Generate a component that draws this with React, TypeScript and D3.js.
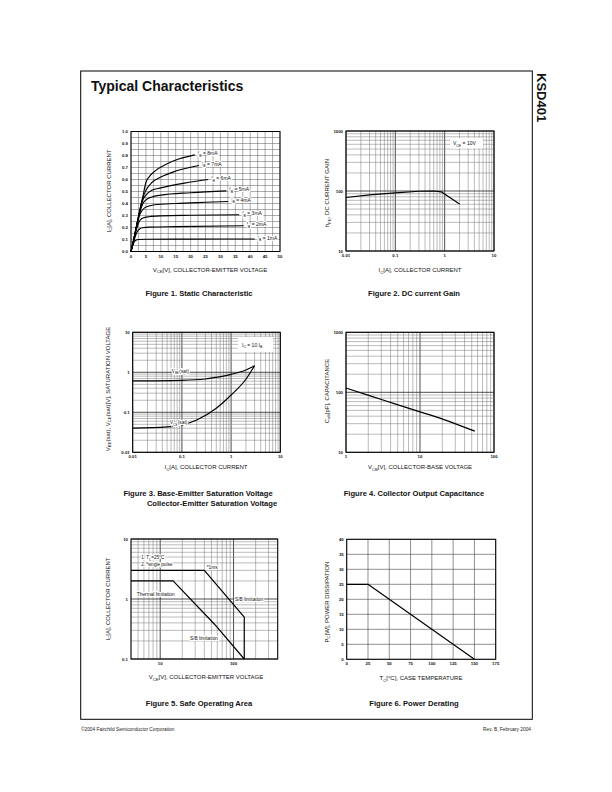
import React from "react";
import * as d3 from "d3";

const FONT = "'Liberation Sans', Arial, Helvetica, sans-serif";

// ---------- Figure 1: Static characteristic ----------
const fig1XTicks = [0, 5, 10, 15, 20, 25, 30, 35, 40, 45, 50];
const fig1YTicks = [0, 0.1, 0.2, 0.3, 0.4, 0.5, 0.6, 0.7, 0.8, 0.9, 1.0];
const ib1mA = [[0, 0], [0.5, 0.045], [1, 0.075], [1.5, 0.092], [2.5, 0.1], [5, 0.102], [20, 0.103], [41.5, 0.104]];
const ib2mA = [[0, 0], [1, 0.09], [2, 0.16], [3, 0.19], [4, 0.198], [6, 0.203], [15, 0.207], [37.8, 0.214]];
const ib3mA = [[0, 0], [1, 0.1], [2, 0.2], [3, 0.26], [4, 0.28], [6, 0.29], [10, 0.297], [20, 0.302], [36.3, 0.306]];
const ib4mA = [[0, 0], [1, 0.11], [2, 0.22], [3, 0.31], [4, 0.35], [5, 0.37], [8, 0.39], [15, 0.4], [25, 0.41], [32.6, 0.417]];
const ib5mA = [[0, 0], [1, 0.11], [2, 0.23], [3, 0.33], [4, 0.4], [5, 0.43], [7, 0.455], [10, 0.47], [20, 0.49], [32, 0.505]];
const ib6mA = [[0, 0], [1, 0.11], [2, 0.23], [3, 0.34], [4, 0.43], [5, 0.47], [7, 0.51], [10, 0.53], [18, 0.57], [25.9, 0.6]];
const ib7mA = [[0, 0], [1, 0.11], [2, 0.23], [3, 0.35], [4, 0.45], [5, 0.51], [7, 0.575], [10, 0.62], [15, 0.67], [22.8, 0.717]];
const ib8mA = [[0, 0], [1, 0.11], [2, 0.23], [3, 0.35], [4, 0.46], [5, 0.575], [6, 0.62], [8, 0.67], [12, 0.73], [16, 0.77], [21.4, 0.805]];
const fig1Series = [ib1mA, ib2mA, ib3mA, ib4mA, ib5mA, ib6mA, ib7mA, ib8mA];
const fig1Labels = ["1mA", "2mA", "3mA", "4mA", "5mA", "6mA", "7mA", "8mA"];

// ---------- Figure 2: DC current gain ----------
const fig2Ticks = { x: [0.01, 0.1, 1, 10], y: [10, 100, 1000] };
const hfe = [[0.01, 78], [0.03, 86], [0.1, 93], [0.3, 99], [0.6, 100], [0.85, 97], [2, 61]];

// ---------- Figure 3: saturation voltage ----------
const fig3XTicks = [0.01, 0.1, 1, 10];
const fig3YTicks = [0.01, 0.1, 1, 10];
const vbeSat = [[0.01, 0.61], [0.1, 0.63], [0.3, 0.68], [0.5, 0.75], [1, 0.89], [2, 1.14], [3, 1.46]];
const vceSat = [[0.01, 0.04], [0.05, 0.043], [0.1, 0.048], [0.2, 0.064], [0.5, 0.126], [1, 0.27], [2, 0.67], [3, 1.46]];

// ---------- Figure 4: output capacitance ----------
const fig4XTicks = [1, 10, 100];
const fig4YTicks = [10, 100, 1000];
const cob = [[1, 118], [2, 89], [5, 62], [10, 47], [20, 36.5], [55, 22.5]];

// ---------- Figure 5: safe operating area ----------
const fig5XTicks = [10, 100];
const fig5YTicks = [0.1, 1, 10];
const soa1ms = [[4, 3], [40, 3], [140, 0.5], [140, 0.1]];
const soaDC = [[4, 2], [15, 2], [55, 0.38], [140, 0.1]];

// ---------- Figure 6: power derating ----------
const fig6XTicks = [0, 25, 50, 75, 100, 125, 150, 175];
const fig6YTicks = [0, 5, 10, 15, 20, 25, 30, 35, 40];
const pd = [[0, 25], [25, 25], [150, 0]];

type Part = [string, number];

function RichText({ x, y, parts, size, anchor = "start", weight = "normal", transform, halo = false }: any) {
  let sub = false;
  const off = size * 0.3;
  const spans = (parts as Part[]).map((p, i) => {
    const isSub = p[1] === 1;
    let dy = 0;
    if (isSub && !sub) dy = off;
    if (!isSub && sub) dy = -off;
    sub = isSub;
    return (
      <tspan key={i} dy={dy} fontSize={isSub ? size * 0.7 : size}>
        {p[0]}
      </tspan>
    );
  });
  return (
    <text
      x={x}
      y={y}
      fontSize={size}
      fontFamily={FONT}
      fontWeight={weight}
      textAnchor={anchor}
      transform={transform}
      fill="#111"
      stroke={halo ? "white" : undefined}
      strokeWidth={halo ? 2.2 : undefined}
      paintOrder={halo ? "stroke" : undefined}
    >
      {spans}
    </text>
  );
}

const isDecade = (v: number) => Math.abs(Math.log10(v) - Math.round(Math.log10(v))) < 1e-6;

function LogGrid({ x, y }: any) {
  const [x0, x1] = x.range();
  const [y1, y0] = y.range();
  return (
    <g>
      {x.ticks().map((v: number, i: number) => (
        <line key={"vx" + i} x1={x(v)} x2={x(v)} y1={y0} y2={y1}
          stroke={isDecade(v) ? "#222" : "#777"} strokeWidth={isDecade(v) ? 0.8 : 0.5} />
      ))}
      {y.ticks().map((v: number, i: number) => (
        <line key={"hy" + i} x1={x0} x2={x1} y1={y(v)} y2={y(v)}
          stroke={isDecade(v) ? "#222" : "#777"} strokeWidth={isDecade(v) ? 0.8 : 0.5} />
      ))}
    </g>
  );
}

function LinGrid({ x, y, xs, ys, color = "#7a7a7a", w = 0.5 }: any) {
  const [x0, x1] = x.range();
  const [y1, y0] = y.range();
  return (
    <g>
      {xs.map((v: number, i: number) => (
        <line key={"vx" + i} x1={x(v)} x2={x(v)} y1={y0} y2={y1} stroke={color} strokeWidth={w} />
      ))}
      {ys.map((v: number, i: number) => (
        <line key={"hy" + i} x1={x0} x2={x1} y1={y(v)} y2={y(v)} stroke={color} strokeWidth={w} />
      ))}
    </g>
  );
}

function Frame({ x, y }: any) {
  const [x0, x1] = x.range();
  const [y1, y0] = y.range();
  return <rect x={x0} y={y0} width={x1 - x0} height={y1 - y0} fill="none" stroke="#000" strokeWidth={1} />;
}

function Ticks({ x, y, xt, yt, xf, yf }: any) {
  const [x0] = x.range();
  const [y1] = y.range();
  return (
    <g fontFamily={FONT} fontSize={4.3} fontWeight="bold" fill="#111">
      {xt.map((v: number, i: number) => (
        <text key={"xt" + i} x={x(v)} y={y1 + 6} textAnchor="middle">{xf(v)}</text>
      ))}
      {yt.map((v: number, i: number) => (
        <text key={"yt" + i} x={x0 - 3} y={y(v) + 1.5} textAnchor="end">{yf(v)}</text>
      ))}
    </g>
  );
}

function Path({ data, x, y, curve = d3.curveLinear, w = 1.2 }: any) {
  const gen = d3.line<number[]>().x((d) => x(d[0])).y((d) => y(d[1])).curve(curve);
  return <path d={gen(data) || ""} fill="none" stroke="#000" strokeWidth={w} strokeLinejoin="round" />;
}

function AxisLabels({ xParts, yParts, yLabelX, yLabelCY, xLabelY, xLabelCX }: any) {
  return (
    <g>
      <RichText x={xLabelCX} y={xLabelY} parts={xParts} size={6} anchor="middle" />
      <RichText x={0} y={0} parts={yParts} size={6} anchor="middle"
        transform={`translate(${yLabelX},${yLabelCY}) rotate(-90)`} />
    </g>
  );
}

function Caption({ x, y, text }: any) {
  return (
    <text x={x} y={y} fontFamily={FONT} fontSize={7.6} fontWeight="bold" textAnchor="middle" fill="#111">{text}</text>
  );
}

const fmtPlain = (v: number) => String(v);

function Figure1() {
  const x = d3.scaleLinear().domain([0, 50]).range([131, 280]);
  const y = d3.scaleLinear().domain([0, 1]).range([251.5, 131.5]);
  const gx = d3.range(0, 50.001, 2.5);
  const gy = d3.range(0, 1.0001, 0.05);
  return (
    <g>
      <LinGrid x={x} y={y} xs={gx} ys={gy} color="#5a5a5a" w={0.5} />
      {fig1Series.map((s, i) => (
        <Path key={i} data={s} x={x} y={y} curve={d3.curveMonotoneX} w={1.1} />
      ))}
      {fig1Series.map((s, i) => {
        const last = s[s.length - 1];
        return (
          <RichText key={"l" + i} x={x(last[0]) + 3} y={y(last[1]) + 0.5}
            parts={[["I", 0], ["B", 1], [" = " + fig1Labels[i], 0]]} size={5} halo />
        );
      })}
      <Frame x={x} y={y} />
      <Ticks x={x} y={y} xt={fig1XTicks} yt={fig1YTicks} xf={fmtPlain} yf={(v: number) => v.toFixed(1)} />
      <AxisLabels
        xParts={[["V", 0], ["CE", 1], ["[V], COLLECTOR-EMITTER VOLTAGE", 0]]}
        yParts={[["I", 0], ["C", 1], ["[A], COLLECTOR CURRENT", 0]]}
        yLabelX={110.5} yLabelCY={191} xLabelY={271.5} xLabelCX={210} />
      <Caption x={199} y={296} text="Figure 1. Static Characteristic" />
    </g>
  );
}

function Figure2() {
  const x = d3.scaleLog().domain([0.01, 10]).range([346, 494]);
  const y = d3.scaleLog().domain([10, 1000]).range([251, 131]);
  return (
    <g>
      <LogGrid x={x} y={y} />
      <Path data={hfe} x={x} y={y} w={1.2} />
      <rect x={450} y={138} width={33} height={10.5} fill="white" />
      <RichText x={453} y={145} parts={[["V", 0], ["CE", 1], [" = 10V", 0]]} size={5} />
      <Frame x={x} y={y} />
      <Ticks x={x} y={y} xt={fig2Ticks.x} yt={fig2Ticks.y} xf={fmtPlain} yf={fmtPlain} />
      <AxisLabels
        xParts={[["I", 0], ["C", 1], ["[A], COLLECTOR CURRENT", 0]]}
        yParts={[["h", 0], ["FE", 1], [", DC CURRENT GAIN", 0]]}
        yLabelX={329} yLabelCY={193} xLabelY={272} xLabelCX={420} />
      <Caption x={414} y={296} text="Figure 2. DC current Gain" />
    </g>
  );
}

function Figure3() {
  const x = d3.scaleLog().domain([0.01, 10]).range([132.7, 280.3]);
  const y = d3.scaleLog().domain([0.01, 10]).range([452.3, 332.3]);
  return (
    <g>
      <LogGrid x={x} y={y} />
      <Path data={vbeSat} x={x} y={y} curve={d3.curveMonotoneX} w={1.2} />
      <Path data={vceSat} x={x} y={y} curve={d3.curveMonotoneX} w={1.2} />
      <RichText x={x(0.062)} y={y(0.96)} parts={[["V", 0], ["BE", 1], ["(sat)", 0]]} size={4.8} halo />
      <RichText x={x(0.057)} y={y(0.05)} parts={[["V", 0], ["CE", 1], ["(sat)", 0]]} size={4.8} halo />
      <rect x={238} y={337} width={35} height={15} fill="white" />
      <RichText x={242} y={346.5} parts={[["I", 0], ["C", 1], [" = 10 I", 0], ["B", 1]]} size={5} />
      <Frame x={x} y={y} />
      <Ticks x={x} y={y} xt={fig3XTicks} yt={fig3YTicks} xf={fmtPlain} yf={fmtPlain} />
      <AxisLabels
        xParts={[["I", 0], ["C", 1], ["[A], COLLECTOR CURRENT", 0]]}
        yParts={[["V", 0], ["BE", 1], ["(sat), V", 0], ["CE", 1], ["(sat)[V], SATURATION VOLTAGE", 0]]}
        yLabelX={109.5} yLabelCY={389} xLabelY={469} xLabelCX={206} />
      <Caption x={198} y={496} text="Figure 3. Base-Emitter Saturation Voltage" />
      <Caption x={212} y={505.5} text="Collector-Emitter Saturation Voltage" />
    </g>
  );
}

function Figure4() {
  const x = d3.scaleLog().domain([1, 100]).range([346, 494]);
  const y = d3.scaleLog().domain([10, 1000]).range([452.3, 332.3]);
  return (
    <g>
      <LogGrid x={x} y={y} />
      <Path data={cob} x={x} y={y} curve={d3.curveBasis} w={1.2} />
      <Frame x={x} y={y} />
      <Ticks x={x} y={y} xt={fig4XTicks} yt={fig4YTicks} xf={fmtPlain} yf={fmtPlain} />
      <AxisLabels
        xParts={[["V", 0], ["CB", 1], ["[V], COLLECTOR-BASE VOLTAGE", 0]]}
        yParts={[["C", 0], ["ob", 1], ["[pF], CAPACITANCE", 0]]}
        yLabelX={328.5} yLabelCY={391} xLabelY={469} xLabelCX={420} />
      <Caption x={414} y={495.5} text="Figure 4. Collector Output Capacitance" />
    </g>
  );
}

function Figure5() {
  const x = d3.scaleLog().domain([4, 400]).range([131, 277.7]);
  const y = d3.scaleLog().domain([0.1, 10]).range([659, 539]);
  return (
    <g>
      <LogGrid x={x} y={y} />
      <Path data={soa1ms} x={x} y={y} w={1.2} />
      <Path data={soaDC} x={x} y={y} w={1.2} />
      <RichText x={x(5.5)} y={y(4.6)} parts={[["1. T", 0], ["C", 1], ["=25°C", 0]]} size={4.6} halo />
      <RichText x={x(5.5)} y={y(3.6)} parts={[["2. *single pulse", 0]]} size={4.6} halo />
      <RichText x={x(43)} y={y(3.2)} parts={[["*1ms", 0]]} size={4.8} halo />
      <RichText x={x(4.8)} y={y(1.12)} parts={[["Thermal limitation", 0]]} size={4.8} halo />
      <RichText x={x(105)} y={y(0.91)} parts={[["S/B limitation", 0]]} size={4.8} halo />
      <RichText x={x(25.5)} y={y(0.207)} parts={[["S/B limitation", 0]]} size={4.8} halo />
      <Frame x={x} y={y} />
      <Ticks x={x} y={y} xt={fig5XTicks} yt={fig5YTicks} xf={fmtPlain} yf={fmtPlain} />
      <AxisLabels
        xParts={[["V", 0], ["CE", 1], ["[V], COLLECTOR-EMITTER VOLTAGE", 0]]}
        yParts={[["I", 0], ["C", 1], ["[A], COLLECTOR CURRENT", 0]]}
        yLabelX={109.5} yLabelCY={599} xLabelY={679} xLabelCX={206} />
      <Caption x={199} y={705.5} text="Figure 5. Safe Operating Area" />
    </g>
  );
}

function Figure6() {
  const x = d3.scaleLinear().domain([0, 175]).range([346.7, 495.7]);
  const y = d3.scaleLinear().domain([0, 40]).range([659.3, 539.3]);
  return (
    <g>
      <LinGrid x={x} y={y} xs={fig6XTicks} ys={fig6YTicks} color="#444" w={0.6} />
      <Path data={pd} x={x} y={y} w={1.2} />
      <Frame x={x} y={y} />
      <Ticks x={x} y={y} xt={fig6XTicks} yt={fig6YTicks} xf={fmtPlain} yf={fmtPlain} />
      <AxisLabels
        xParts={[["T", 0], ["C", 1], ["[°C], CASE TEMPERATURE", 0]]}
        yParts={[["P", 0], ["C", 1], ["[W], POWER DISSIPATION", 0]]}
        yLabelX={328.5} yLabelCY={602} xLabelY={680} xLabelCX={421} />
      <Caption x={414} y={705.5} text="Figure 6. Power Derating" />
    </g>
  );
}

export default function App() {
  return (
    <svg width={612} height={792} viewBox="0 0 612 792"
      style={{ position: "absolute", left: 0, top: 0, background: "white" }}>
      <rect x={0} y={0} width={612} height={792} fill="white" />
      <rect x={80.7} y={71} width={451.6} height={648.3} fill="none" stroke="#000" strokeWidth={1} />
      <text x={91} y={91} fontFamily={FONT} fontSize={14} fontWeight="bold" fill="#111">Typical Characteristics</text>
      <text x={0} y={0} fontFamily={FONT} fontSize={13} fontWeight="bold" fill="#111"
        transform="translate(537,73) rotate(90)">KSD401</text>
      <Figure1 />
      <Figure2 />
      <Figure3 />
      <Figure4 />
      <Figure5 />
      <Figure6 />
      <text x={81} y={731} fontFamily={FONT} fontSize={4.8} fill="#222">©2004 Fairchild Semiconductor Corporation</text>
      <text x={531} y={731} fontFamily={FONT} fontSize={4.8} fill="#222" textAnchor="end">Rev. B, February 2004</text>
    </svg>
  );
}
